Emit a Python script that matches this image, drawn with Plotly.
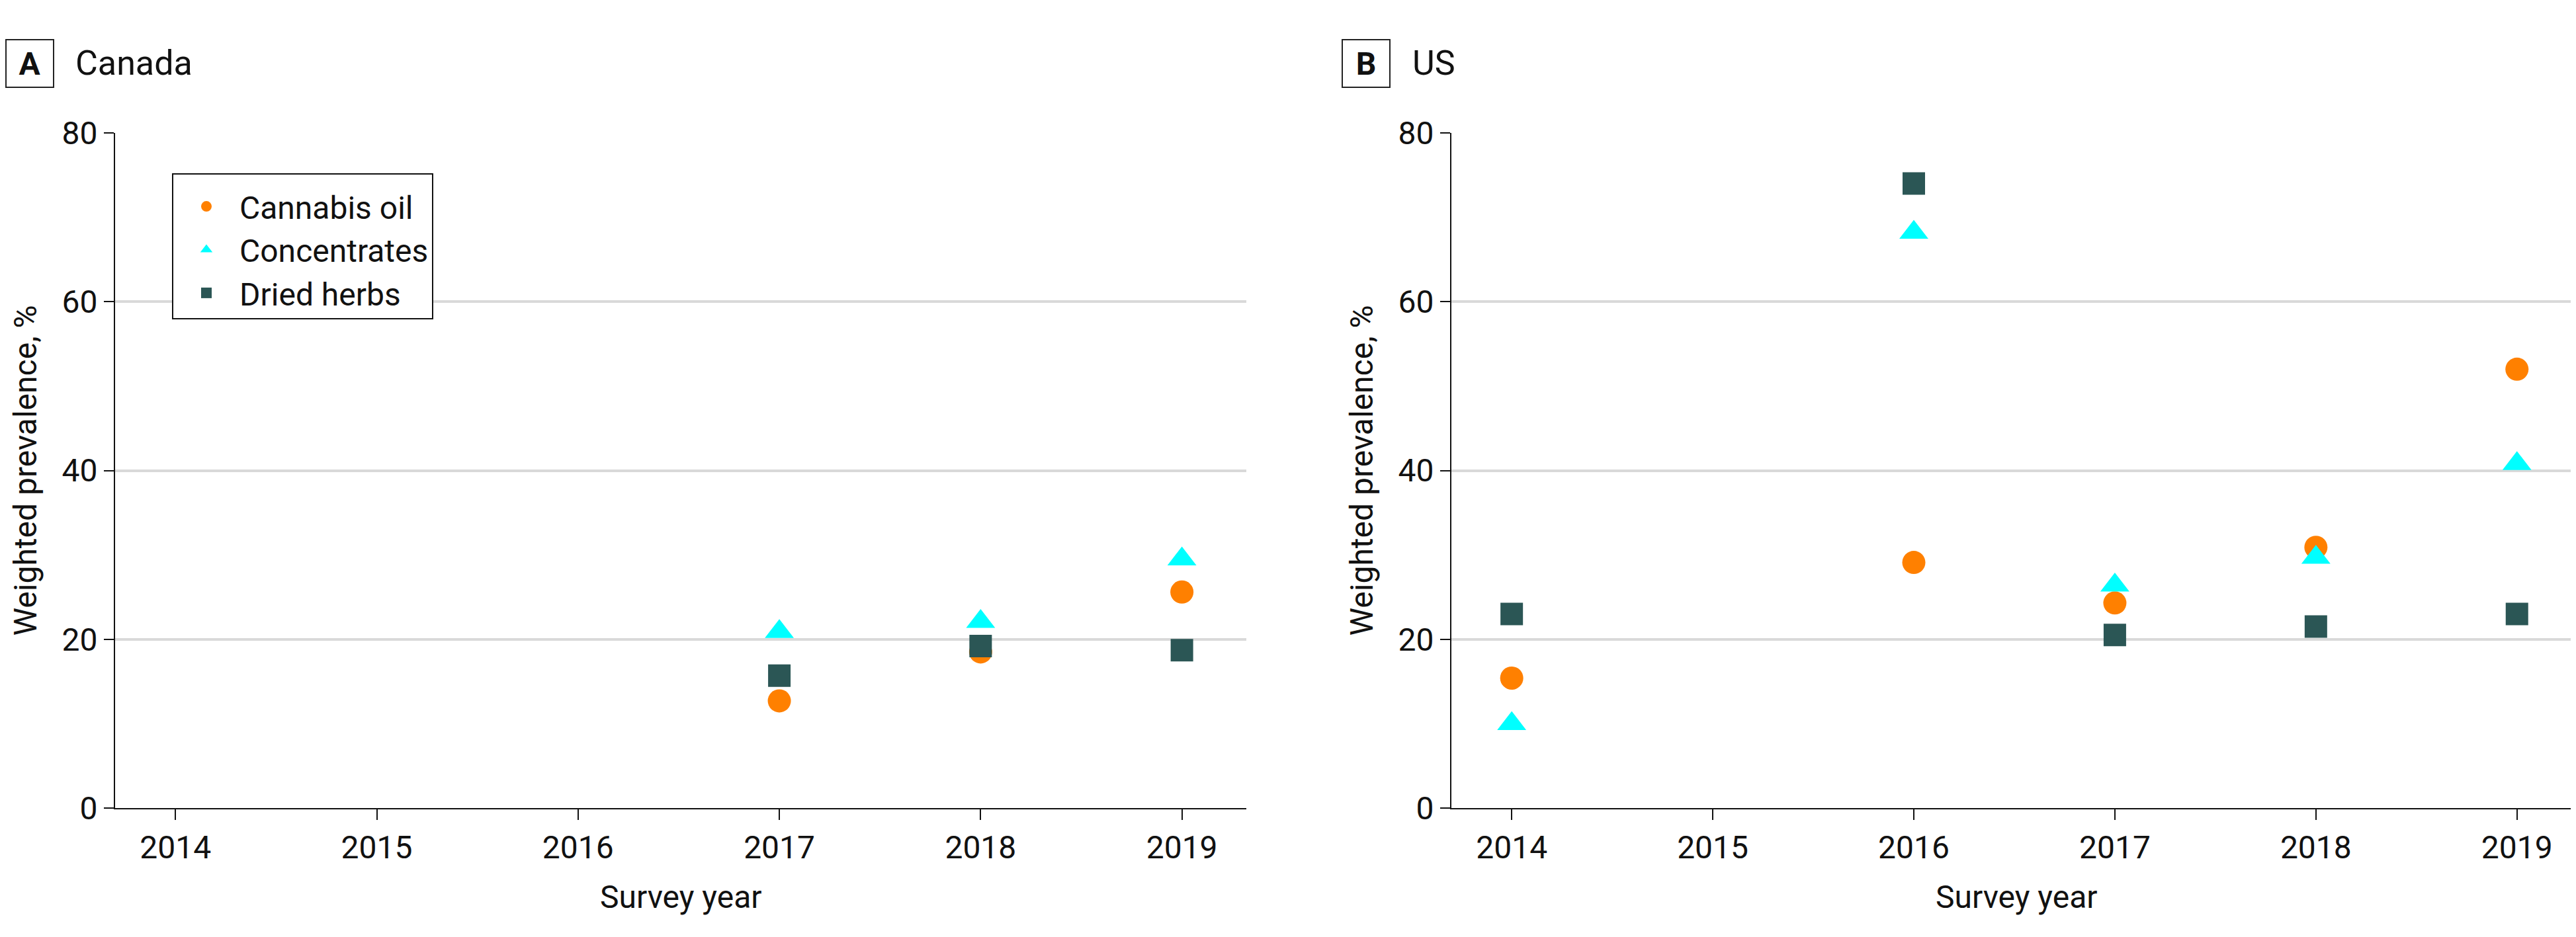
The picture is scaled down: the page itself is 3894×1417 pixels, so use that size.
import plotly.graph_objects as go

# ---- data ----
canada_years = [2017, 2018, 2019]
canada_oil = [12.7, 18.5, 25.6]
canada_conc = [20.9, 22.1, 29.5]
canada_herbs = [15.7, 19.2, 18.7]

us_years = [2014, 2016, 2017, 2018, 2019]
us_oil = [15.4, 29.1, 24.3, 30.9, 52.0]
us_conc = [10.0, 68.2, 26.4, 29.7, 40.8]
us_herbs = [23.0, 74.0, 20.5, 21.5, 23.0]

series_names = ["Cannabis oil", "Concentrates", "Dried herbs"]
x_ticks = [2014, 2015, 2016, 2017, 2018, 2019]
y_ticks = [0, 20, 40, 60, 80]
panel_titles = [("A", "Canada"), ("B", "US")]

# ---- styles ----
FONT = "Roboto, Arial, sans-serif"
C_OIL = "#FF8000"
C_CONC = "#00FFFF"
C_HERB = "#2B5655"
W, H = 3894, 1417
L, R, T, B = 166, 0, 193, 203
PW = W - L - R
PH = H - T - B

def px_x(p):
    return (p - L) / PW

def px_y(p):
    return (H - B - p) / PH

fig = go.Figure()

styles = [
    (C_OIL, "circle", 35),
    (C_CONC, "triangle-up", 38),
    (C_HERB, "square", 34),
]
panels = [
    ("x", "y", canada_years, [canada_oil, canada_conc, canada_herbs], True),
    ("x2", "y2", us_years, [us_oil, us_conc, us_herbs], False),
]
for xa, ya, yrs, vals, show in panels:
    for name, v, (col, sym, sz) in zip(series_names, vals, styles):
        fig.add_trace(go.Scatter(
            x=yrs, y=v, mode="markers", name=name, showlegend=show,
            xaxis=xa, yaxis=ya,
            marker=dict(color=col, symbol=sym, size=sz, line=dict(width=0)),
        ))

x_common = dict(
    range=[2013.7, 2019.32], tickvals=x_ticks, ticktext=[str(t) for t in x_ticks],
    showgrid=False, zeroline=False, showline=True, linecolor="#111", linewidth=2,
    ticks="outside", ticklen=16, tickwidth=2, tickcolor="#111",
    tickfont=dict(family=FONT, size=48, color="#111"),
)
y_common = dict(
    range=[0, 80], tickvals=y_ticks, showgrid=True, gridcolor="#D9D9D9", gridwidth=4,
    zeroline=False, showline=True, linecolor="#111", linewidth=2,
    ticks="outside", ticklen=15, tickwidth=2, tickcolor="#111",
    tickfont=dict(family=FONT, size=48, color="#111"),
)

left_dom = [0, px_x(1876)]
right_dom = [px_x(2186), 1]

fig.update_layout(
    width=W, height=H,
    margin=dict(l=L, r=R, t=T, b=B),
    paper_bgcolor="white", plot_bgcolor="white",
    font=dict(family=FONT, size=48, color="#111"),
    xaxis=dict(domain=left_dom, anchor="y", **x_common),
    yaxis=dict(domain=[0, 1], anchor="x", **y_common),
    xaxis2=dict(domain=right_dom, anchor="y2", **x_common),
    yaxis2=dict(domain=[0, 1], anchor="x2", **y_common),
    legend=dict(
        x=px_x(252), y=px_y(254), xanchor="left", yanchor="top",
        bordercolor="#111", borderwidth=2, bgcolor="white",
        font=dict(family=FONT, size=48, color="#111"),
        title=dict(text=" ", font=dict(size=8)),
        itemsizing="trace", itemwidth=90,
    ),
    showlegend=True,
)

annotations = []
for (letter, name), box_cx, text_left in zip(panel_titles, [37, 2057], [104, 2125]):
    annotations.append(dict(
        text="<b>%s</b>" % letter, xref="paper", yref="paper",
        x=px_x(box_cx), y=px_y(88), xanchor="center", yanchor="middle",
        showarrow=False, font=dict(family=FONT, size=48, color="#111"),
        bordercolor="#222", borderwidth=2, borderpad=0, width=70, height=70,
    ))
    annotations.append(dict(
        text=name, xref="paper", yref="paper",
        x=px_x(text_left), y=px_y(88), xanchor="left", yanchor="middle",
        showarrow=False, font=dict(family=FONT, size=52, color="#111"),
    ))

for cx in [30, 2050]:
    annotations.append(dict(
        text="Weighted prevalence, %", xref="paper", yref="paper",
        x=px_x(cx), y=0.5, xanchor="center", yanchor="middle", textangle=-90,
        showarrow=False, font=dict(family=FONT, size=48, color="#111"),
    ))
for cx in [(166 + 1876) / 2, (2186 + W) / 2]:
    annotations.append(dict(
        text="Survey year", xref="paper", yref="paper",
        x=px_x(cx), y=px_y(1348), xanchor="center", yanchor="middle",
        showarrow=False, font=dict(family=FONT, size=48, color="#111"),
    ))
fig.update_layout(annotations=annotations)

fig.write_html("out.html")
